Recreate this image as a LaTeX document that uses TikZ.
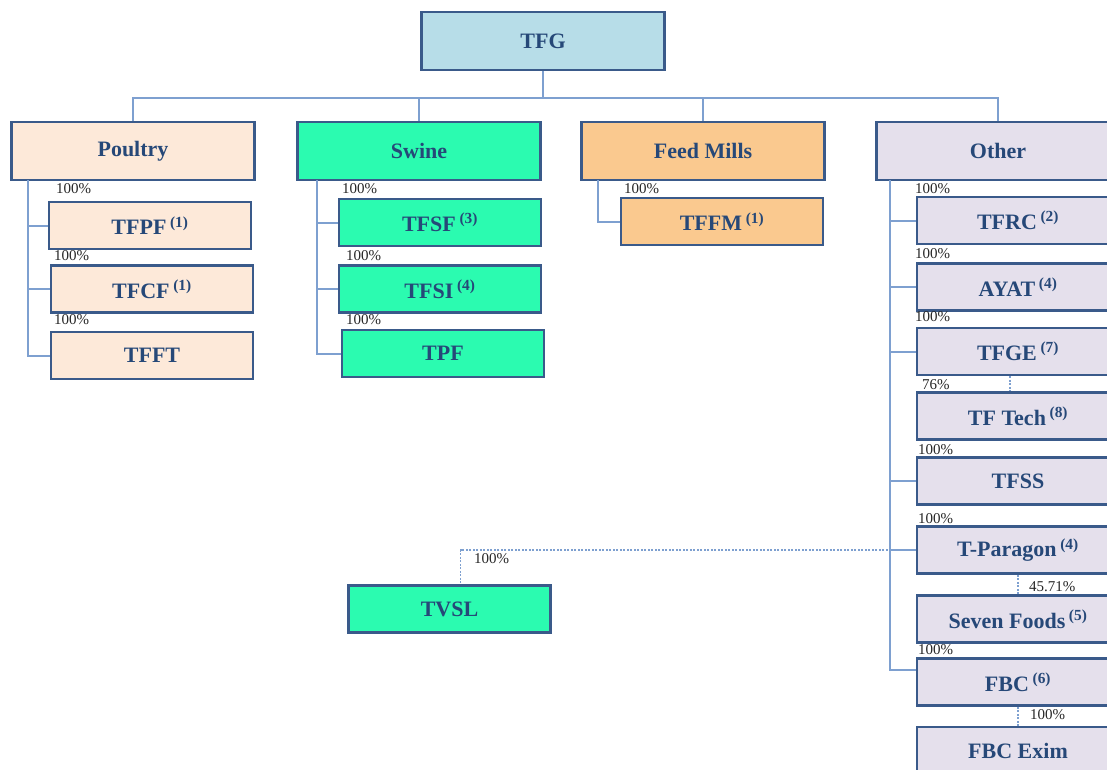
\documentclass[tikz,border=0pt]{standalone}
\usepackage{fontspec}
\setmainfont{Liberation Serif}
\usepackage{xcolor}
\usetikzlibrary{positioning}

\definecolor{tfgfill}{HTML}{B7DDE8}
\definecolor{poultryfill}{HTML}{FDE9D9}
\definecolor{swinefill}{HTML}{2BFBB0}
\definecolor{feedfill}{HTML}{FAC98F}
\definecolor{otherfill}{HTML}{E5E0EC}
\definecolor{boxline}{HTML}{3A5A8A}
\definecolor{linkblue}{HTML}{7EA0D0}
\definecolor{textnavy}{HTML}{264878}

\newcommand{\refmark}[1]{\,\textsuperscript{(#1)}}

\tikzset{
  unit/.style={draw=boxline, line width=2.8pt, text=textnavy,
    font=\fontsize{22}{24}\selectfont\bfseries,
    minimum width=202pt, minimum height=47pt, inner sep=0pt},
  head/.style={unit, minimum width=243pt, minimum height=58pt},
  link/.style={draw=linkblue, line width=2pt},
  owned/.style={draw=linkblue, line width=1.2pt, dash pattern=on 2pt off 1.5pt},
  pct/.style={font=\fontsize{15}{16}\selectfont, text=black!85, anchor=west, inner sep=0pt}
}

\begin{document}
\begin{tikzpicture}[x=1pt,y=-1pt]
\useasboundingbox (0,0) rectangle (1107,769);
% top level
\node[head, fill=tfgfill] (tfg) at (543,41) {TFG};
\node[head, fill=poultryfill] (poultry) at (133,151) {Poultry};
\node[head, fill=swinefill] (swine) at (419,151) {Swine};
\node[head, fill=feedfill] (feed) at (703,151) {Feed Mills};
\node[head, fill=otherfill] (other) at (998,151) {Other};
\coordinate (bus) at (543,98);
\draw[link] (tfg.south) -- (bus);
\draw[link] (bus) -| (poultry.north);
\draw[link] (bus) -| (swine.north);
\draw[link] (bus) -| (feed.north);
\draw[link] (bus) -| (other.north);
% poultry
\node[unit, fill=poultryfill] (tfpf) at (150,225.5) {TFPF\refmark{1}};
\node[unit, fill=poultryfill] (tfcf) at (152,289) {TFCF\refmark{1}};
\node[unit, fill=poultryfill] (tfft) at (152,355.5) {TFFT};
\coordinate (pv) at (28,180);
\draw[link] (pv) |- (tfpf.west);
\draw[link] (pv) |- (tfcf.west);
\draw[link] (pv) |- (tfft.west);
\node[pct] (p1) at (56,189) {100\%};
\node[pct] (p2) at (54,256) {100\%};
\node[pct] (p3) at (54,320) {100\%};
% swine
\node[unit, fill=swinefill] (tfsf) at (440,222.5) {TFSF\refmark{3}};
\node[unit, fill=swinefill] (tfsi) at (440,289) {TFSI\refmark{4}};
\node[unit, fill=swinefill] (tpf) at (443,353.5) {TPF};
\coordinate (sv) at (317,180);
\draw[link] (sv) |- (tfsf.west);
\draw[link] (sv) |- (tfsi.west);
\draw[link] (sv) |- (tpf.west);
\node[pct] (s1) at (342,189) {100\%};
\node[pct] (s2) at (346,256) {100\%};
\node[pct] (s3) at (346,320) {100\%};
% feed mills
\node[unit, fill=feedfill] (tffm) at (722,221.5) {TFFM\refmark{1}};
\coordinate (fv) at (598,180);
\draw[link] (fv) |- (tffm.west);
\node[pct] (f1) at (624,189) {100\%};
% other
\node[unit, fill=otherfill] (tfrc) at (1018,220.5) {TFRC\refmark{2}};
\node[unit, fill=otherfill] (ayat) at (1018,287) {AYAT\refmark{4}};
\node[unit, fill=otherfill] (tfge) at (1018,351.5) {TFGE\refmark{7}};
\node[unit, fill=otherfill] (tftech) at (1018,416) {TF Tech\refmark{8}};
\node[unit, fill=otherfill] (tfss) at (1018,481) {TFSS};
\node[unit, fill=otherfill] (tparagon) at (1018,550) {T-Paragon\refmark{4}};
\node[unit, fill=otherfill] (sevenfoods) at (1018,619) {Seven Foods\refmark{5}};
\node[unit, fill=otherfill] (fbc) at (1018,682) {FBC\refmark{6}};
\node[unit, fill=otherfill] (fbcexim) at (1018,750.5) {FBC Exim};
\node[unit, fill=swinefill] (tvsl) at (449.5,609) {TVSL};
\coordinate (ov) at (890,180);
\draw[link] (ov) |- (tfrc.west);
\draw[link] (ov) |- (ayat.west);
\draw[link] (ov) |- (tfge.west);
\draw[link] (ov) |- (tfss.west);
\draw[link] (ov) |- (tparagon.west);
\draw[link] (ov) |- ([yshift=12pt]fbc.west);
\draw[owned] ([xshift=-8pt]tfge.south) -- ([xshift=-8pt]tftech.north);
\draw[owned] (tparagon.south) -- (sevenfoods.north);
\draw[owned] (fbc.south) -- (fbcexim.north);
\draw[owned] (tparagon.west) -| ([xshift=11pt]tvsl.north);
\node[pct] (o1) at (915,189) {100\%};
\node[pct] (o2) at (915,254) {100\%};
\node[pct] (o3) at (915,317) {100\%};
\node[pct] (o4) at (922,385) {76\%};
\node[pct] (o5) at (918,450) {100\%};
\node[pct] (o6) at (918,519) {100\%};
\node[pct] (o7) at (474,559) {100\%};
\node[pct] (o8) at (1029,587) {45.71\%};
\node[pct] (o9) at (918,650) {100\%};
\node[pct] (o10) at (1030,715) {100\%};
\end{tikzpicture}
\end{document}
